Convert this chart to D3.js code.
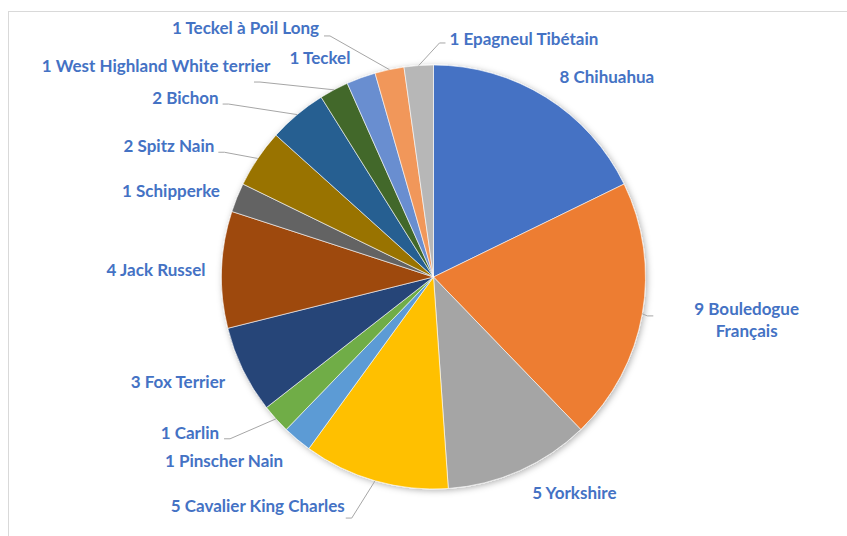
<!DOCTYPE html>
<html>
<head>
<meta charset="utf-8">
<script src="https://cdn.jsdelivr.net/npm/d3@7"></script>
<style>
body { margin: 0; background: #fff; }
svg { display: block; }
</style>
</head>
<body>
<script>
var width = 847, height = 536;
var cx = 433.5, cy = 277, radius = 212;

var breeds = ["Chihuahua", "Bouledogue Français", "Yorkshire", "Cavalier King Charles", "Pinscher Nain",
  "Carlin", "Fox Terrier", "Jack Russel", "Schipperke", "Spitz Nain", "Bichon",
  "West Highland White terrier", "Teckel", "Teckel à Poil Long", "Epagneul Tibétain"];
var counts = [8, 9, 5, 5, 1, 1, 3, 4, 1, 2, 2, 1, 1, 1, 1];

var colors = ["#4472C4", "#ED7D31", "#A5A5A5", "#FFC000", "#5B9BD5", "#70AD47", "#264478", "#9E480E",
  "#636363", "#997300", "#255E91", "#43682B", "#698ED0", "#F1975A", "#B7B7B7"];

// label placement: polar angle (deg, clockwise from top), distance as a fraction of the radius,
// optional leader line start [side, gap from text edge, y offset from text centre]
var labelAngle = [40.9, 97.8, 146.9, 217.5, 228.7, 237.4, 247.7, 271.4, 288.1, 296.3, 305.8, 307.25, 332.6, 322.95, 20.8];
var labelDist = [1.249, 1.491, 1.217, 1.362, 1.315, 1.364, 1.303, 1.309, 1.303, 1.392, 1.443, 1.644, 1.164, 1.472, 1.201];
var leaders = [null, ["l", 41, -4], null, ["r", 1, 12], null, ["r", 5, 6], null, null, null,
  ["r", 4, 6], ["r", 4, 6], ["r", -17, 16], null, ["r", 5, 8], ["l", 4, 4]];
var wrapped = [false, true, false, false, false, false, false, false, false, false, false, false, false, false, false];

var svg = d3.select("body").append("svg")
  .attr("width", width)
  .attr("height", height);

var defs = svg.append("defs");
var shadow = defs.append("filter").attr("id", "shadow")
  .attr("x", "-20%").attr("y", "-20%").attr("width", "140%").attr("height", "140%");
shadow.append("feDropShadow")
  .attr("dx", 1.5).attr("dy", 1.5).attr("stdDeviation", 3)
  .attr("flood-color", "#000").attr("flood-opacity", 0.3);

// chart area border
svg.append("rect")
  .attr("x", 8.5).attr("y", 11.5)
  .attr("width", width + 20).attr("height", height + 20)
  .attr("fill", "none")
  .attr("stroke", "#D9D9D9")
  .attr("stroke-width", 1);

var pie = d3.pie().sort(null).value(function(d) { return d; });
var arcs = pie(counts);

var arc = d3.arc().innerRadius(0).outerRadius(radius);
var toRad = d3.scaleLinear().domain([0, 360]).range([0, 2 * Math.PI]);

var g = svg.append("g").attr("transform", "translate(" + cx + "," + cy + ")");

g.append("g").attr("filter", "url(#shadow)")
  .selectAll("path")
  .data(arcs)
  .enter().append("path")
  .attr("d", arc)
  .attr("fill", function(d, i) { return colors[i]; })
  .attr("stroke", "#fff")
  .attr("stroke-width", 0.6);

var labels = g.append("g")
  .attr("font-family", "Lato, 'Open Sans', sans-serif")
  .attr("font-weight", "bold")
  .attr("font-size", 17)
  .attr("fill", "#4472C4");

arcs.forEach(function(d, i) {
  var a = toRad(labelAngle[i]);
  var r = radius * labelDist[i];
  var lx = r * Math.sin(a), ly = -r * Math.cos(a);
  var lines = wrapped[i] ? [counts[i] + " " + breeds[i].split(" ")[0], breeds[i].split(" ").slice(1).join(" ")]
                         : [counts[i] + " " + breeds[i]];
  var t = labels.append("text").attr("text-anchor", "middle");
  var lineH = 22;
  lines.forEach(function(s, k) {
    t.append("tspan")
      .attr("x", lx)
      .attr("y", ly + (k - (lines.length - 1) / 2) * lineH)
      .attr("dy", "0.36em")
      .text(s);
  });

  if (leaders[i]) {
    var box = t.node().getBBox();
    var side = leaders[i][0], gap = leaders[i][1], off = leaders[i][2];
    var sx = side === "r" ? box.x + box.width + gap : box.x - gap;
    var sy = ly + off;
    var mid = (d.startAngle + d.endAngle) / 2;
    var ex = radius * Math.sin(mid), ey = -radius * Math.cos(mid);
    var tick = ex > sx ? 6 : -6;
    g.append("path")
      .attr("d", d3.line()([[sx, sy], [sx + tick, sy], [ex, ey]]))
      .attr("fill", "none")
      .attr("stroke", "#A6A6A6")
      .attr("stroke-width", 1);
  }
});
</script>
</body>
</html>
